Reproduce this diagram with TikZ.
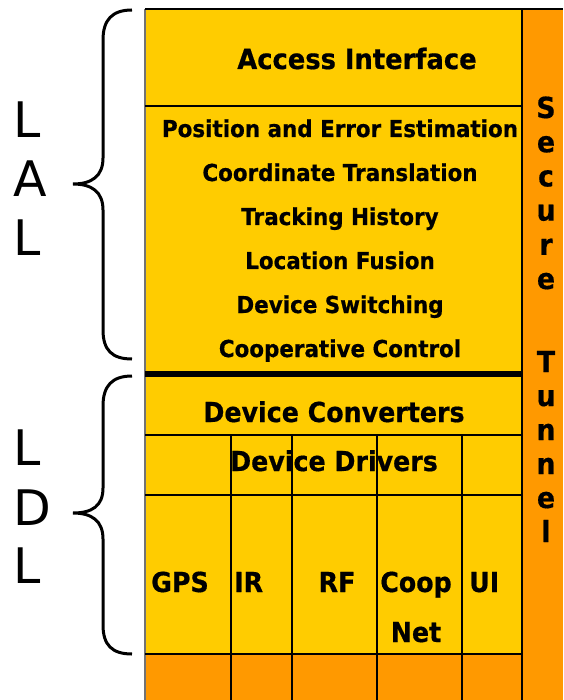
\documentclass[tikz,border=0pt]{standalone}
\usepackage{fontspec}
\usepackage{tikz}
\usetikzlibrary{positioning}
\newfontfamily\boxfont{DejaVu Sans Bold}[FakeStretch=0.92,FakeBold=0.6]
\newfontfamily\sidefont{DejaVu Sans}
\definecolor{layeryellow}{RGB}{255,204,0}
\definecolor{layerorange}{RGB}{255,153,0}

\begin{document}
\begin{tikzpicture}[
    % GLOBAL CFG
    x=1pt, y=-1pt,
    % Styles
    grid/.style={% thin cell borders
        draw=black,
        line width=1.5pt,
        },
    split/.style={% thick line between LAL and LDL
        draw=black,
        line width=6pt,
        },
    bigtxt/.style={% layer titles
        font=\boxfont\fontsize{28}{30}\selectfont,
        anchor=base,
        inner sep=0pt,
        },
    midtxt/.style={% device rows
        font=\boxfont\fontsize{27.5}{29}\selectfont,
        anchor=base,
        inner sep=0pt,
        },
    smalltxt/.style={% LAL services
        font=\boxfont\fontsize{23.3}{25}\selectfont,
        anchor=base,
        inner sep=0pt,
        },
    tunnel/.style={% letters of the secure tunnel
        font=\boxfont\fontsize{29}{30}\selectfont,
        anchor=base,
        inner sep=0pt,
        },
    side/.style={% LAL / LDL letters
        font=\sidefont\fontsize{49}{50}\selectfont,
        anchor=base west,
        inner sep=0pt,
        },
    brace/.style={% hand drawn braces
        line width=3pt,
        },
    ]

    \useasboundingbox (0,0) rectangle (563,700);

    % Draw the layers
    \fill [layeryellow] (145,9) rectangle (522,654);
    \fill [layerorange] (145,654) rectangle (522,700);
    \fill [layerorange] (522,9) rectangle (563,700);

    % Borders
    \draw [grid, draw=black!55] (145,700) -- (145,9);
    \draw [grid] (145,9) -- (563,9);
    \draw [grid] (522,9) -- (522,700);
    \draw [grid] (145,106) -- (522,106);
    \draw [split] (145,374) -- (522,374);
    \draw [grid] (145,435) -- (522,435);
    \draw [grid] (145,495) -- (522,495);
    \draw [grid] (145,654) -- (522,654);
    \foreach \xx in {231,292,377,462}
        \draw [grid] (\xx,435) -- (\xx,700);

    % Access layer
    \node [bigtxt] (access) at (357,69) {Access Interface};
    \node [smalltxt] (pos) at (340,137) {Position and Error Estimation};
    \node [smalltxt] (coord) at (340,181) {Coordinate Translation};
    \node [smalltxt] (track) at (340,225) {Tracking History};
    \node [smalltxt] (fusion) at (340,269) {Location Fusion};
    \node [smalltxt] (switch) at (340,313) {Device Switching};
    \node [smalltxt] (coop) at (340,357) {Cooperative Control};

    % Device layer
    \node [midtxt] (conv) at (334,422) {Device Converters};
    \node [midtxt] (drv) at (334,471) {Device Drivers};
    \node [midtxt, anchor=base west] (gps) at (151,592) {GPS};
    \node [midtxt, anchor=base west] (ir) at (234,592) {IR};
    \node [midtxt] (rf) at (337,592) {RF};
    \node [midtxt] (coopa) at (416,592) {Coop};
    \node [midtxt] (coopb) at (416,642) {Net};
    \node [midtxt, anchor=base west] (ui) at (469,592) {UI};

    % Secure tunnel
    \foreach \ch [count=\i] in {S,e,c,u,r,e}
        \node [tunnel] (sec\i) at (546,{118+34.2*(\i-1)}) {\ch};
    \foreach \ch [count=\i] in {T,u,n,n,e,l}
        \node [tunnel] (tun\i) at (546,{372+34*(\i-1)}) {\ch};

    % Braces
    \draw [brace] (132,10) .. controls (112,10) and (103,20) .. (103,40)
        -- (103,158) .. controls (103,176) and (92,184) .. (73,184)
        .. controls (92,184) and (103,192) .. (103,210)
        -- (103,330) .. controls (103,350) and (112,359) .. (132,359);
    \draw [brace] (132,376) .. controls (112,376) and (103,386) .. (103,406)
        -- (103,488) .. controls (103,506) and (92,513) .. (73,513)
        .. controls (92,513) and (103,521) .. (103,539)
        -- (103,625) .. controls (103,645) and (112,654) .. (132,654);

    % Side labels
    \node [side] (lal1) at (13,138) {L};
    \node [side] (lal2) at (13,197) {A};
    \node [side] (lal3) at (13,255) {L};
    \node [side] (ldl1) at (13,465) {L};
    \node [side] (ldl2) at (13,525) {D};
    \node [side] (ldl3) at (13,583) {L};

\end{tikzpicture}
\end{document}
